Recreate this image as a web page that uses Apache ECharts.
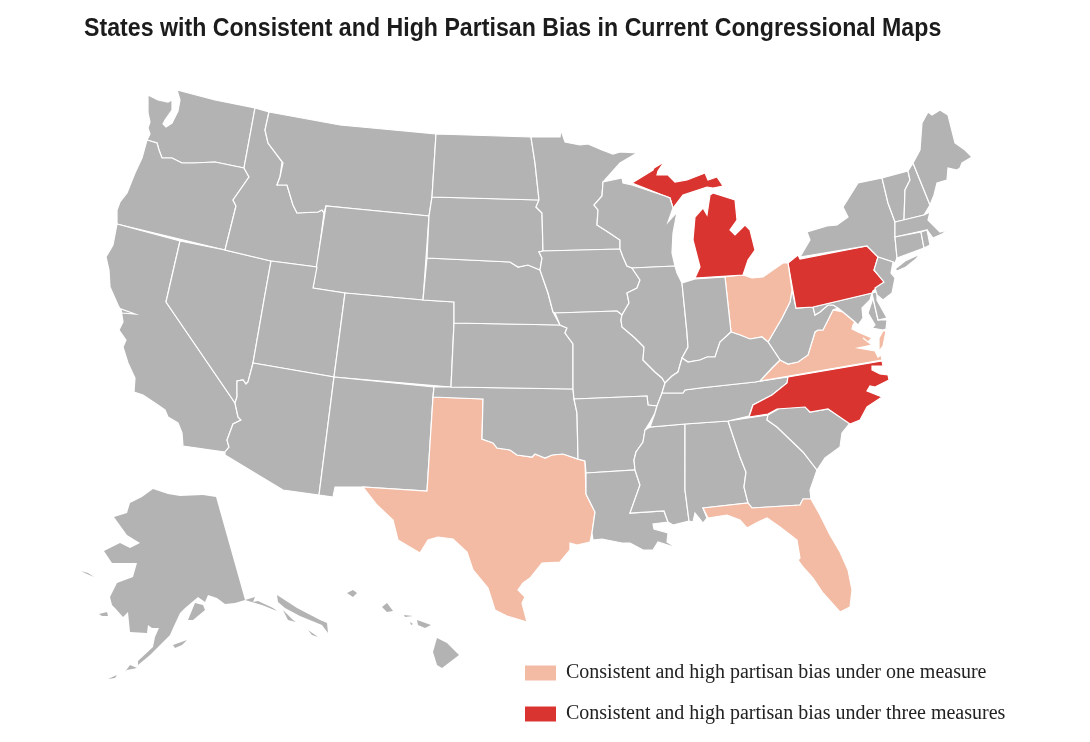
<!DOCTYPE html>
<html>
<head>
    <meta charset="utf-8">
    <title>Partisan bias map</title>
    <script src="https://cdn.jsdelivr.net/npm/echarts@6/dist/echarts.min.js"></script>
    <style>
        html, body { margin: 0; padding: 0; background: #fff; }
        #chart1 { width: 1090px; height: 742px; }
    </style>
</head>
<body>
<div id="chart1"></div>
<script type="text/javascript">
    var chartTitle = 'States with Consistent and High Partisan Bias in Current Congressional Maps';
    var legendLabels = ['Consistent and high partisan bias under one measure', 'Consistent and high partisan bias under three measures'];
    var legendValues = [1, 3];
    var legendColors = ['#f3bba4', '#da3431'];

    // states by number of measures that show bias, the rest are 0
    var oneMeasureStates = ['Texas', 'Florida', 'Ohio', 'Virginia'];
    var threeMeasureStates = ['Michigan', 'Pennsylvania', 'North Carolina'];
    var otherStates = ['Alabama', 'Alaska', 'Arizona', 'Arkansas', 'California', 'Colorado', 'Connecticut', 'Delaware', 'Georgia', 'Hawaii',
        'Idaho', 'Illinois', 'Indiana', 'Iowa', 'Kansas', 'Kentucky', 'Louisiana', 'Maine', 'Maryland', 'Massachusetts', 'Minnesota',
        'Mississippi', 'Missouri', 'Montana', 'Nebraska', 'Nevada', 'New Hampshire', 'New Jersey', 'New Mexico', 'New York', 'North Dakota',
        'Oklahoma', 'Oregon', 'Rhode Island', 'South Carolina', 'South Dakota', 'Tennessee', 'Utah', 'Vermont', 'Washington', 'West Virginia',
        'Wisconsin', 'Wyoming'];

    // hand traced outlines for the base map, x,y pairs in page pixels
    var stateOutlines = {
        Washington: [[148,95,158,100,168,102,172,100,172,110,165,120,163,124,166,127,172,123,178,111,180,100,177,90,215,100,255,108,244,168,215,162,193,163,182,163,172,158,162,158,159,150,157,143,147,140,150,134,148,128,150,122,148,113]],
        Oregon: [[147,140,157,143,159,150,162,158,172,158,182,163,193,163,215,162,244,168,249,177,233,200,236,206,225,250,117,224,117,210,120,202,127,193,129,188,135,173,142,158]],
        California: [[117,224,180,241,166,302,235,403,238,417,241,420,233,424,227,440,229,447,225,452,183,446,182,433,178,423,168,417,165,410,155,403,143,395,134,392,135,378,128,363,123,347,126,340,119,330,123,322,121,309,135,314,122,313,118,305,110,287,109,270,106,257,113,245]],
        Nevada: [[180,241,225,250,271,261,264,300,253,363,248,382,246,384,243,380,237,381,237,397,235,403,166,302]],
        Idaho: [[255,108,269,112,265,130,268,143,282,162,283,163,280,177,277,185,287,185,293,205,297,213,318,212,322,210,324,213,317,267,271,261,225,250,236,206,233,200,249,177,244,168]],
        Montana: [[269,112,340,125,436,134,432,197,429,216,326,206,324,213,322,210,318,212,297,213,293,205,287,185,277,185,280,177,283,163,282,162,268,143,265,130]],
        Wyoming: [[326,206,429,216,423,300,345,293,313,288]],
        Utah: [[271,261,317,267,313,288,345,293,334,377,253,363,264,300]],
        Colorado: [[345,293,423,300,454,302,454,323,451,387,334,377]],
        Arizona: [[253,363,334,377,319,495,283,490,225,455,225,452,229,447,227,440,233,424,241,420,238,417,235,403,237,397,237,381,243,380,246,384,248,382]],
        'New Mexico': [[334,377,434,387,433,397,427,491,363,487,335,487,333,497,319,495]],
        Texas: [[433,397,483,399,482,439,493,443,497,448,510,450,517,455,532,457,535,454,545,458,552,455,563,454,577,459,585,461,586,494,595,512,592,533,590,542,577,545,570,543,570,550,560,562,542,563,530,578,523,583,518,590,525,597,522,603,527,622,507,616,495,610,488,588,473,570,467,552,453,539,438,537,428,540,420,553,398,540,393,520,377,505,363,487,427,491]],
        Oklahoma: [[434,387,451,387,573,389,574,399,577,413,578,459,563,454,552,455,545,458,535,454,532,457,517,455,510,450,497,448,493,443,482,439,483,399,433,397]],
        Kansas: [[454,323,560,325,567,328,565,333,573,344,573,389,451,387]],
        Nebraska: [[427,258,510,262,518,267,528,265,540,270,548,293,553,312,560,325,454,323,454,302,423,300]],
        'South Dakota': [[432,197,539,200,536,207,542,213,543,251,539,252,542,258,540,270,528,265,518,267,510,262,427,258,429,216]],
        'North Dakota': [[436,134,531,137,535,163,539,200,432,197]],
        Minnesota: [[531,137,560,137,561,130,565,142,580,145,588,144,602,150,613,154,620,152,637,153,620,163,603,182,602,196,594,205,598,210,597,225,608,232,620,240,620,249,543,251,542,213,536,207,539,200,535,163]],
        Iowa: [[543,251,620,249,623,257,627,266,632,268,640,280,637,288,627,293,629,303,622,315,617,311,555,313,553,312,548,293,540,270,542,258,539,252]],
        Missouri: [[555,313,617,311,622,315,621,320,622,327,635,338,644,347,643,360,655,372,662,378,665,383,662,393,657,406,648,405,647,396,574,399,573,389,573,344,565,333,567,328,560,325]],
        Arkansas: [[574,399,647,396,648,405,657,406,655,413,650,422,645,430,643,442,636,452,634,460,635,470,586,473,585,461,578,459,577,413]],
        Louisiana: [[586,473,635,470,640,485,630,513,664,511,668,522,653,524,654,529,668,533,667,542,677,548,658,542,653,550,643,550,630,543,622,543,602,539,593,540,592,533,595,512,586,494]],
        Mississippi: [[650,427,685,424,685,490,689,521,673,525,668,522,664,511,630,513,640,485,635,470,634,460,636,452,643,442,645,430]],
        Alabama: [[685,424,728,421,740,457,746,472,744,487,748,503,703,508,707,518,703,523,695,513,693,522,689,521,685,490]],
        Georgia: [[728,421,768,415,767,420,777,427,803,452,817,470,810,490,811,499,803,499,800,505,752,508,748,503,744,487,746,472,740,457]],
        'South Carolina': [[767,420,768,415,780,408,805,406,810,412,828,409,850,423,842,433,840,447,825,458,817,470,803,452,777,427]],
        Florida: [[703,508,748,503,752,508,800,505,803,499,811,499,820,515,830,535,840,552,848,570,852,590,850,607,840,612,823,593,813,578,803,567,798,560,800,558,797,540,780,527,767,518,758,522,747,528,740,520,727,515,708,518]],
        Tennessee: [[650,427,655,413,657,406,662,393,683,393,685,390,700,388,755,382,788,377,787,383,772,395,753,405,749,416,728,421,685,424]],
        'North Carolina': [[788,377,882,361,883,366,872,366,872,370,880,374,888,375,889,380,875,387,870,386,867,391,882,397,867,407,860,420,850,424,828,409,810,412,805,407,777,409,768,414,749,417,753,405,772,395,787,383]],
        Virginia: [[760,381,772,368,780,360,788,364,798,362,808,355,815,332,818,330,823,330,833,310,843,312,855,322,853,325,852,329,858,332,872,338,868,342,863,338,872,345,858,348,875,351,878,357,881,355,882,360], [883,331,886,331,883,346,879,351,879,338]],
        'West Virginia': [[768,342,775,330,782,318,790,302,792,290,796,308,813,307,815,315,820,312,828,305,833,305,838,308,833,310,823,330,818,330,815,332,808,355,798,362,788,364,780,360]],
        Maryland: [[813,307,872,293,870,300,862,308,863,318,858,325,855,322,843,312,838,308,833,305,828,305,820,312,815,315], [873,298,878,320,887,320,886,329,883,330,872,328,875,325,868,313]],
        Delaware: [[872,293,877,292,877,300,887,318,878,320,873,298]],
        Pennsylvania: [[788,263,798,255,800,259,867,246,878,257,874,270,885,282,873,291,872,293,813,307,796,308]],
        'New York': [[800,257,810,240,807,232,827,226,837,225,848,217,843,207,858,183,882,178,888,203,895,222,895,237,897,258,895,263,893,262,878,257,867,246], [895,269,905,261,918,255,922,252,916,259,906,267,897,271]],
        'New Jersey': [[878,257,893,262,891,273,895,278,892,293,883,300,877,295,875,288,884,282,874,270]],
        Vermont: [[882,178,908,171,910,180,905,190,904,220,895,222,888,203]],
        'New Hampshire': [[908,171,913,163,930,205,924,215,904,220,905,190,910,180]],
        Maine: [[913,163,920,150,922,123,928,112,932,115,940,110,948,115,955,143,965,150,972,157,962,163,960,168,957,170,948,168,947,180,937,183,934,195,930,205]],
        Massachusetts: [[895,222,924,215,930,212,928,220,940,232,948,230,942,234,933,238,927,230,895,237]],
        Connecticut: [[895,237,921,232,924,248,897,258]],
        'Rhode Island': [[921,232,927,230,930,245,924,248]],
        Ohio: [[723,277,743,275,752,278,763,277,783,263,788,263,792,290,790,302,782,318,775,330,768,342,762,337,750,339,740,335,731,332,725,277]],
        Michigan: [[695,278,700,267,693,240,695,217,703,208,707,215,710,195,713,193,735,200,737,220,730,230,735,235,745,225,750,230,755,250,748,260,743,275], [632,183,653,170,654,168,664,162,658,171,657,175,668,175,675,182,687,180,705,173,708,180,717,177,723,186,713,188,707,187,683,195,673,208,670,198,665,196]],
        Wisconsin: [[603,182,622,178,623,183,632,185,665,196,670,198,673,208,668,222,677,212,673,233,672,253,675,266,632,268,627,266,623,257,620,249,620,240,608,232,597,225,598,210,594,205,602,196]],
        Illinois: [[632,268,675,266,677,273,682,283,687,333,688,347,682,358,680,365,678,372,672,376,665,383,662,378,655,372,643,360,644,347,635,338,622,327,621,320,622,315,629,303,627,293,637,288,640,280]],
        Indiana: [[682,283,695,279,725,277,731,332,720,342,715,357,707,357,700,360,688,362,682,358,688,347,687,333]],
        Kentucky: [[665,383,672,376,678,372,682,358,688,362,700,360,707,357,715,357,720,342,731,332,740,335,750,339,762,337,768,342,780,360,772,368,760,381,755,382,700,388,685,390,683,393,662,393]],
        Alaska: [[153,489,168,494,180,496,203,495,216,497,245,600,235,603,225,604,217,598,208,595,205,602,198,597,185,608,180,613,173,628,170,635,160,645,150,655,138,665,138,661,153,647,155,637,159,628,152,628,148,625,147,633,130,632,128,612,123,617,115,608,112,605,110,597,117,583,133,577,137,563,112,563,104,551,120,543,130,548,140,543,127,535,114,517,127,513,130,503,142,497],
            [188,620,195,603,203,605,205,610,193,620], [245,600,255,597,253,602,258,601,273,608,277,611,262,605], [277,595,297,608,320,620,327,623,328,633,322,625,300,616,285,608,278,602],
            [283,610,293,620,296,622,288,620], [308,630,318,637,312,635], [173,645,187,640,182,645,175,648], [125,672,130,665,137,668,127,670], [108,679,117,675,115,678], [81,571,88,573,94,577,87,574], [99,614,107,612,108,616,102,616]],
        Hawaii: [[437,638,447,643,459,655,442,668,437,665,433,652], [417,620,431,625,425,628,418,625], [404,615,413,616,405,617], [410,622,413,624,411,625], [382,607,387,603,393,611,387,612], [347,593,353,590,357,593,353,597]]
    };

    // turn the flat pairs into geojson
    function toGeoJson(outlines) {
        var features = [];
        for (var name in outlines) {
            var polys = outlines[name].map(function (flat) {
                var ring = [];
                for (var i = 0; i < flat.length; i += 2) {
                    ring.push([flat[i], flat[i + 1]]);
                }
                ring.push(ring[0]);
                return [ring];
            });
            features.push({
                type: 'Feature',
                properties: {name: name},
                geometry: {type: 'MultiPolygon', coordinates: polys}
            });
        }
        return {type: 'FeatureCollection', features: features};
    }

    var stateData = [];
    oneMeasureStates.forEach(function (s) { stateData.push({name: s, value: 1}); });
    threeMeasureStates.forEach(function (s) { stateData.push({name: s, value: 3}); });
    otherStates.forEach(function (s) {
        // alaska and hawaii are mostly thin bits, a white edge would eat them
        if (s === 'Alaska' || s === 'Hawaii') {
            stateData.push({name: s, value: 0, itemStyle: {borderWidth: 0}});
        } else {
            stateData.push({name: s, value: 0});
        }
    });

    echarts.registerMap('usa', toGeoJson(stateOutlines));

    var myChart1 = echarts.init(document.getElementById('chart1'));
    myChart1.setOption({
        animation: false,
        backgroundColor: '#fff',
        // no narrow font installed, so the title is squeezed sideways
        graphic: [{
            type: 'text',
            x: 84,
            y: 16,
            scaleX: 0.891,
            style: {
                text: chartTitle,
                fontFamily: '"Liberation Sans", sans-serif',
                fontWeight: 'bold',
                fontSize: 26,
                fill: '#1c1c1c'
            }
        }],
        visualMap: {
            type: 'piecewise',
            orient: 'vertical',
            inverse: true,
            left: 525,
            top: 663,
            padding: 0,
            itemWidth: 31,
            itemHeight: 15,
            itemGap: 21,
            textGap: 10,
            itemSymbol: 'rect',
            selectedMode: false,
            hoverLink: false,
            seriesIndex: 0,
            pieces: legendValues.map(function (v, i) {
                return {value: v, label: legendLabels[i], color: legendColors[i]};
            }),
            outOfRange: {color: '#b3b3b3'},
            textStyle: {
                fontFamily: '"Liberation Serif", serif',
                fontSize: 20,
                color: '#222'
            }
        },
        series: [{
            type: 'map',
            map: 'usa',
            silent: true,
            roam: false,
            projection: {
                project: function (p) { return p; },
                unproject: function (p) { return p; }
            },
            boundingCoords: [[0, 0], [1090, 742]],
            layoutCenter: ['50%', '50%'],
            layoutSize: 1090,
            label: {show: false},
            itemStyle: {borderColor: '#fff', borderWidth: 1.2, areaColor: '#b3b3b3'},
            data: stateData
        }]
    });
</script>
</body>
</html>
